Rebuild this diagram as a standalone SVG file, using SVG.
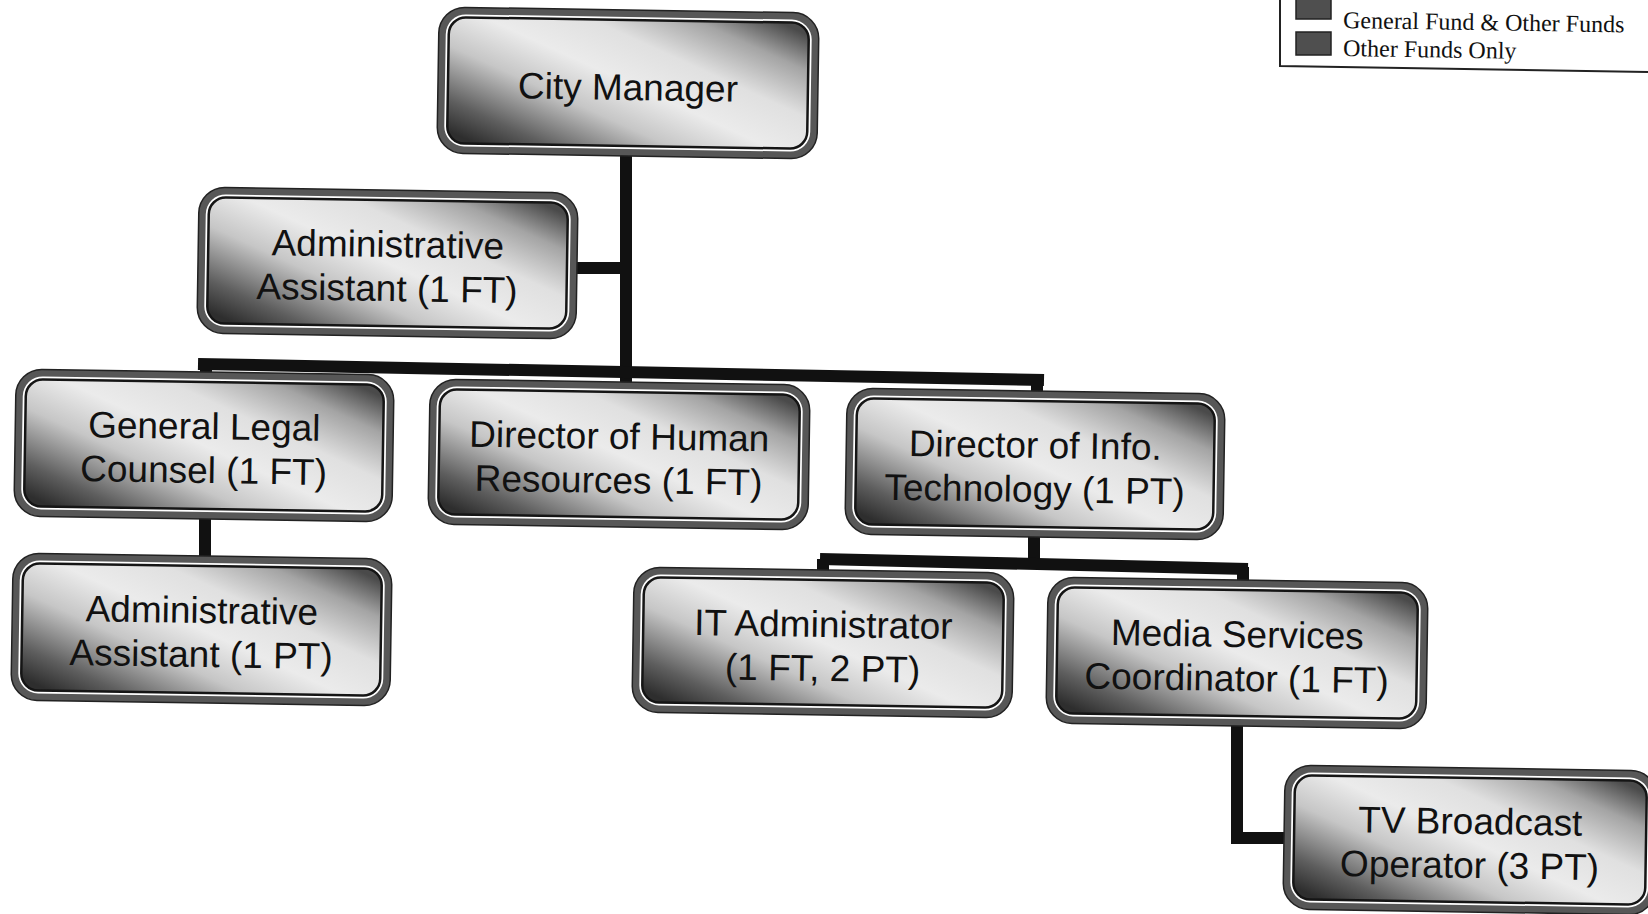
<svg xmlns="http://www.w3.org/2000/svg" width="1648" height="914" viewBox="0 0 1648 914">
<defs>
<linearGradient id="g" x1="0" y1="0.9" x2="1" y2="0.1">
<stop offset="0" stop-color="#2e2e2e"/>
<stop offset="0.12" stop-color="#5e5e5e"/>
<stop offset="0.33" stop-color="#c6c6c6"/>
<stop offset="0.5" stop-color="#ebebeb"/>
<stop offset="0.68" stop-color="#e0e0e0"/>
<stop offset="0.86" stop-color="#a4a4a4"/>
<stop offset="1" stop-color="#4a4a4a"/>
</linearGradient>
<style>
.o{fill:#575757;stroke:#222;stroke-width:1.5}
.w{fill:#fff}
.i{fill:url(#g);stroke:#151515;stroke-width:2.5}
.t{font-family:"Liberation Sans",Arial,sans-serif;font-size:37px;text-anchor:middle;fill:#111}
.c{fill:none;stroke:#111;stroke-width:12;stroke-linecap:butt;stroke-linejoin:miter}
.lg{font-family:"Liberation Serif","Times New Roman",serif;font-size:24px;fill:#111}
.sw{fill:#4f4f4f;stroke:#222;stroke-width:1.5}
</style>
</defs>
<rect width="1648" height="914" fill="#fff"/>

<g id="legend">
<path d="M1280,0 V66 L1648,72" fill="none" stroke="#222" stroke-width="2"/>
<rect class="sw" x="1296" y="-2" width="35" height="21"/>
<rect class="sw" x="1296" y="32" width="35" height="23"/>
<text class="lg" x="1343" y="28" transform="rotate(0.9 1343 28)">General Fund &amp; Other Funds</text>
<text class="lg" x="1343" y="56" transform="rotate(0.9 1343 56)">Other Funds Only</text>
</g>

<g id="connectors">
<path class="c" d="M626,150 V386"/>
<path class="c" d="M572,268 H632"/>
<path class="c" d="M198,364 L1044,380"/>
<path class="c" d="M206,364 V378"/>
<path class="c" d="M205,512 V562"/>
<path class="c" d="M1037,378 V396"/>
<path class="c" d="M1034,532 V566"/>
<path class="c" d="M820,559 L1248,569"/>
<path class="c" d="M823,559 V576"/>
<path class="c" d="M1243,567 V586"/>
<path class="c" d="M1237,720 V838 H1290"/>
</g>

<g id="city-manager" transform="rotate(0.9 628 83)">
<rect class="o" x="438" y="10" width="380" height="146" rx="26"/>
<rect class="w" x="445" y="17" width="366" height="132" rx="20"/>
<rect class="i" x="448" y="20" width="360" height="126" rx="17"/>
<text class="t" x="628" y="100">City Manager</text>
</g>

<g id="admin-assistant-ft" transform="rotate(0.9 387.5 263)">
<rect class="o" x="198" y="190" width="379" height="146" rx="26"/>
<rect class="w" x="205" y="197" width="365" height="132" rx="20"/>
<rect class="i" x="208" y="200" width="359" height="126" rx="17"/>
<text class="t" x="387.5" y="257">Administrative</text>
<text class="t" x="387.5" y="301">Assistant (1 FT)</text>
</g>

<g id="general-legal-counsel" transform="rotate(0.9 204 445.5)">
<rect class="o" x="15" y="372" width="378" height="147" rx="26"/>
<rect class="w" x="22" y="379" width="364" height="133" rx="20"/>
<rect class="i" x="25" y="382" width="358" height="127" rx="17"/>
<text class="t" x="204" y="439">General Legal</text>
<text class="t" x="204" y="483">Counsel (1 FT)</text>
</g>

<g id="director-hr" transform="rotate(0.9 619 454.5)">
<rect class="o" x="429" y="382" width="380" height="145" rx="26"/>
<rect class="w" x="436" y="389" width="366" height="131" rx="20"/>
<rect class="i" x="439" y="392" width="360" height="125" rx="17"/>
<text class="t" x="619" y="449">Director of Human</text>
<text class="t" x="619" y="493">Resources (1 FT)</text>
</g>

<g id="director-it" transform="rotate(0.9 1035 464)">
<rect class="o" x="846" y="391" width="378" height="146" rx="26"/>
<rect class="w" x="853" y="398" width="364" height="132" rx="20"/>
<rect class="i" x="856" y="401" width="358" height="126" rx="17"/>
<text class="t" x="1035" y="458">Director of Info.</text>
<text class="t" x="1035" y="502">Technology (1 PT)</text>
</g>

<g id="admin-assistant-pt" transform="rotate(0.9 201.5 629.5)">
<rect class="o" x="12" y="556" width="379" height="147" rx="26"/>
<rect class="w" x="19" y="563" width="365" height="133" rx="20"/>
<rect class="i" x="22" y="566" width="359" height="127" rx="17"/>
<text class="t" x="201.5" y="623">Administrative</text>
<text class="t" x="201.5" y="667">Assistant (1 PT)</text>
</g>

<g id="it-administrator" transform="rotate(0.9 823 642.5)">
<rect class="o" x="633" y="570" width="380" height="145" rx="26"/>
<rect class="w" x="640" y="577" width="366" height="131" rx="20"/>
<rect class="i" x="643" y="580" width="360" height="125" rx="17"/>
<text class="t" x="823" y="637">IT Administrator</text>
<text class="t" x="823" y="681">(1 FT, 2 PT)</text>
</g>

<g id="media-services" transform="rotate(0.9 1237 653)">
<rect class="o" x="1047" y="580" width="380" height="146" rx="26"/>
<rect class="w" x="1054" y="587" width="366" height="132" rx="20"/>
<rect class="i" x="1057" y="590" width="360" height="126" rx="17"/>
<text class="t" x="1237" y="647">Media Services</text>
<text class="t" x="1237" y="691">Coordinator (1 FT)</text>
</g>

<g id="tv-broadcast" transform="rotate(0.9 1470 840)">
<rect class="o" x="1284" y="768" width="372" height="144" rx="26"/>
<rect class="w" x="1291" y="775" width="358" height="130" rx="20"/>
<rect class="i" x="1294" y="778" width="352" height="124" rx="17"/>
<text class="t" x="1470" y="834">TV Broadcast</text>
<text class="t" x="1470" y="878">Operator (3 PT)</text>
</g>
</svg>
